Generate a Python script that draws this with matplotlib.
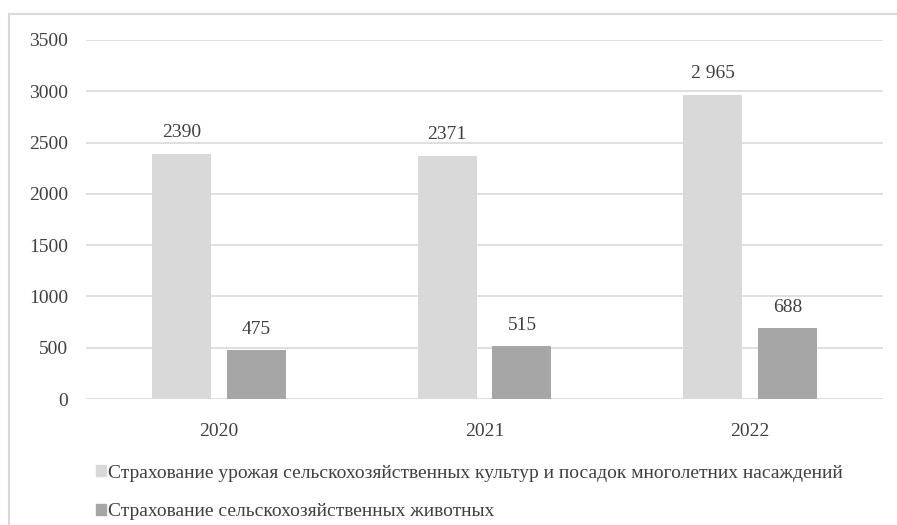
import matplotlib
matplotlib.use("Agg")
import matplotlib.pyplot as plt
import numpy as np
from matplotlib.patches import Patch
from matplotlib.lines import Line2D

plt.rcParams['font.family'] = ['Liberation Serif', 'DejaVu Serif']

years = ['2020', '2021', '2022']
crops = [2390, 2371, 2965]
animals = [475, 515, 688]
crops_labels = ['2390', '2371', '2 965']
animals_labels = ['475', '515', '688']
series_names = ['Страхование урожая сельскохозяйственных культур и посадок многолетних насаждений',
                'Страхование сельскохозяйственных животных']

c_light = '#d9d9d9'
c_dark = '#a6a6a6'
txt = '#404040'

fig = plt.figure(figsize=(8.97, 5.25), dpi=100)
ax = fig.add_axes([86 / 897, 1 - 399 / 525, (883 - 86) / 897, (399 - 40) / 525])

x = np.arange(len(years))
w = 0.222
gap = 0.03
b1 = ax.bar(x - w / 2 - gap, crops, w, color=c_light, zorder=2)
b2 = ax.bar(x + w / 2 + gap, animals, w, color=c_dark, zorder=2)

for bars, labs in [(b1, crops_labels), (b2, animals_labels)]:
    for r, lab in zip(bars, labs):
        ax.annotate(lab, (r.get_x() + r.get_width() / 2, r.get_height()),
                    xytext=(0, 9), textcoords='offset points',
                    ha='center', va='bottom', fontsize=14, color=txt)

ax.set_xlim(-0.5, 2.5)
ax.set_ylim(0, 3500)
ax.set_yticks(range(0, 3501, 500))
ax.set_xticks(x)
ax.set_xticklabels(years)
ax.grid(axis='y', color=c_light, linewidth=1.2, zorder=0)
for s in ax.spines.values():
    s.set_visible(False)
ax.tick_params(length=0, labelsize=14, labelcolor=txt)
ax.tick_params(axis='y', pad=13)
ax.tick_params(axis='x', pad=17)

handles = [Patch(color=c_light), Patch(color=c_dark)]
fig.legend(handles, series_names, loc='upper left', bbox_to_anchor=(88 / 897, 1 - 457 / 525),
           frameon=False, fontsize=14, handlelength=0.5, handleheight=0.5,
           handletextpad=0.15, labelspacing=1.1, labelcolor=txt, borderaxespad=0)

# frame lines of the picture
fig.add_artist(Line2D([9 / 897, 1], [1 - 14 / 525, 1 - 14 / 525], transform=fig.transFigure,
                      color=c_light, linewidth=1.5))
fig.add_artist(Line2D([9 / 897, 9 / 897], [0, 1 - 14 / 525], transform=fig.transFigure,
                      color=c_light, linewidth=1.5))

fig.savefig('out.png', dpi=100)
